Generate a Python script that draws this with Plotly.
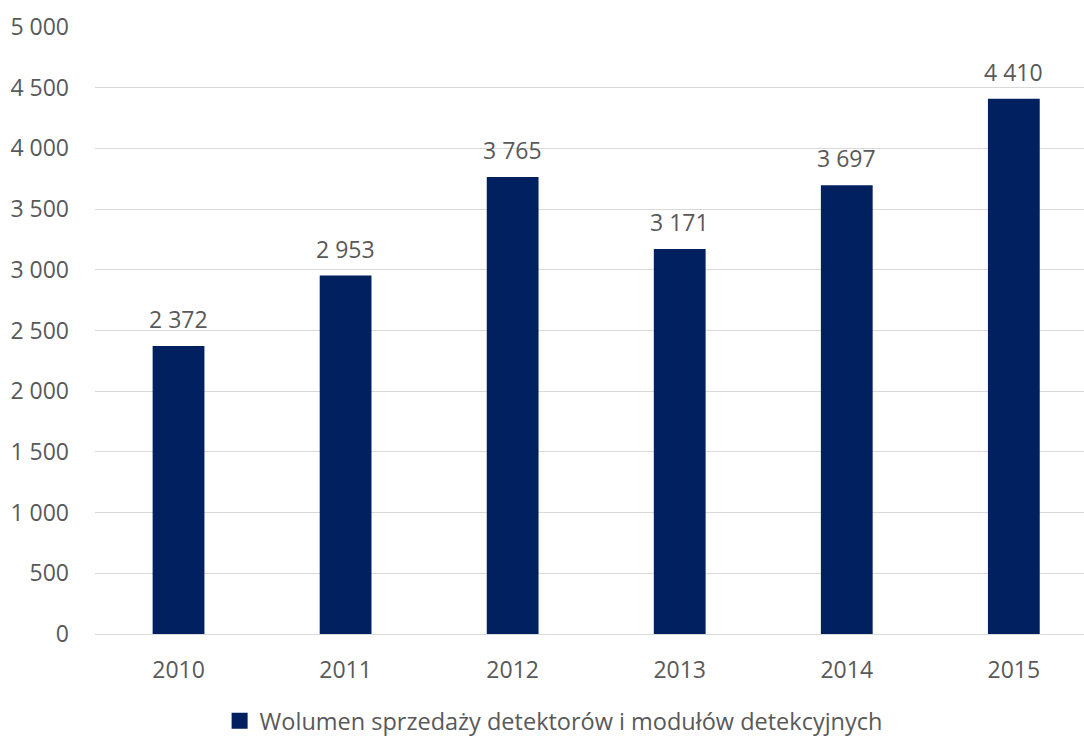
import plotly.graph_objects as go

years = ["2010", "2011", "2012", "2013", "2014", "2015"]
values = [2372, 2953, 3765, 3171, 3697, 4410]
series_name = "Wolumen sprzedaży detektorów i modułów detekcyjnych"
y_ticks = [0, 500, 1000, 1500, 2000, 2500, 3000, 3500, 4000, 4500, 5000]

def fmt(v):
    return f"{v:,}".replace(",", " ")

font_family = "Open Sans"
font_size = 23
text_color = "#595959"
bar_color = "#002060"

fig = go.Figure()
fig.add_trace(go.Bar(
    x=list(range(len(years))), y=values, name=series_name,
    marker=dict(color=bar_color, line=dict(width=0)),
    width=0.31, showlegend=False,
))
# legend entry with a larger square swatch
fig.add_trace(go.Scatter(
    x=[None], y=[None], mode="markers", name=series_name,
    marker=dict(symbol="square", size=16, color=bar_color),
    showlegend=True,
))

for i, v in enumerate(values):
    fig.add_annotation(x=i, y=v, text=fmt(v), showarrow=False,
                       yanchor="bottom", yshift=9,
                       font=dict(family=font_family, size=font_size, color=text_color))

fig.update_layout(
    width=1084, height=738,
    margin=dict(l=95, r=0, t=27, b=104, autoexpand=False),
    paper_bgcolor="white", plot_bgcolor="white",
    font=dict(family=font_family, size=font_size, color=text_color),
    showlegend=True,
    legend=dict(orientation="h", x=0.126, xanchor="left", y=-0.107, yanchor="top",
                itemwidth=30,
                font=dict(family=font_family, size=23.5, color=text_color)),
)
fig.update_xaxes(
    tickmode="array", tickvals=list(range(len(years))), ticktext=years,
    range=[-0.5, 5.42], showgrid=False, showline=False, zeroline=False,
    ticks="", ticklabelstandoff=20,
)
fig.update_yaxes(
    range=[0, 5000], tickmode="array", tickvals=y_ticks,
    ticktext=[fmt(t) for t in y_ticks],
    showgrid=True, gridcolor="#d9d9d9", gridwidth=1.3,
    zeroline=True, zerolinecolor="#d9d9d9", zerolinewidth=1.3,
    showline=False, ticks="", ticklabelstandoff=25,
)

fig.write_html("out.html")
